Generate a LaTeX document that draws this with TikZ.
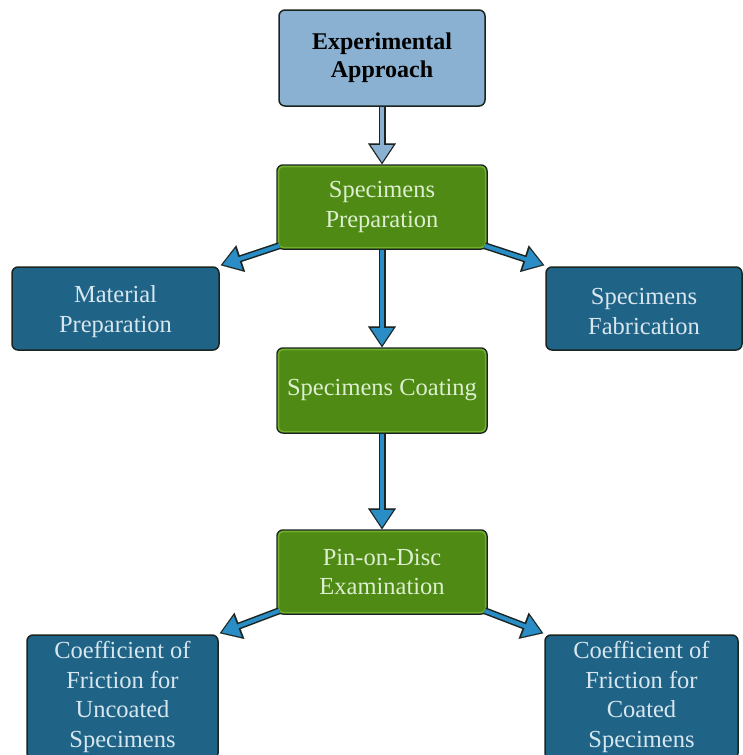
\documentclass[tikz,border=0pt]{standalone}
\usepackage{fontspec}
\setmainfont{Liberation Serif}
\newfontfamily\tnr{Liberation Serif}
\usetikzlibrary{arrows.meta,calc}
\definecolor{topfill}{HTML}{8AB1D1}
\definecolor{greenfill}{HTML}{4E8A14}
\definecolor{greenedge}{HTML}{72AE2C}
\definecolor{greentext}{HTML}{DDEFD0}
\definecolor{bluefill}{HTML}{1F6487}
\definecolor{bluetext}{HTML}{D8E6EF}
\definecolor{arrowblue}{HTML}{2A8DC5}
\definecolor{edgedark}{HTML}{1A2420}
\tikzset{
  basebox/.style={rectangle, rounded corners=6pt, draw=edgedark, line width=1.5pt,
    align=center, font=\tnr\fontsize{24.5}{29.5}\selectfont, inner sep=2pt},
  topbox/.style={basebox, fill=topfill, text=black, font=\tnr\fontsize{24}{28}\selectfont\bfseries},
  greenbox/.style={basebox, fill=greenfill, text=greentext},
  bluebox/.style={basebox, fill=bluefill, text=bluetext},
  bluelabel/.style={align=center, font=\tnr\fontsize{24.5}{29.5}\selectfont, text=bluetext, inner sep=0pt, yshift=-3pt},
  inneredge/.style={draw=greenedge, line width=1.6pt, rounded corners=4.5pt},
  arrowout/.style={draw=edgedark, line width=7pt, shorten >=12pt},
  arrowin/.style={draw=#1, line width=4pt, shorten >=12pt},
  tipout/.style={draw=edgedark, -{Triangle[length=21pt,width=28pt,fill=edgedark]}, line width=0.1pt},
  tipin/.style={draw=#1, -{Triangle[length=17pt,width=22.5pt,fill=#1]}, line width=0.1pt, shorten >=2.2pt},
}
\newcommand{\fatarrow}[3]{%
  \path[tipout] #1 -- #2;
  \path[arrowout] #1 -- #2;
  \path[arrowin=#3] #1 -- #2;
  \path[tipin=#3] #1 -- #2;
}
\begin{document}
\begin{tikzpicture}[x=1pt,y=-1pt]
\useasboundingbox (0,0) rectangle (742,755);
\node[topbox, minimum width=206pt, minimum height=96pt] (ea) at (382,58) {Experimental\\Approach};
\node[greenbox, minimum width=210pt, minimum height=84pt] (sp) at (382,207) {Specimens\\Preparation};
\node[bluebox, minimum width=207pt, minimum height=83pt,
  label={[bluelabel]center:Material\\Preparation}] (mp) at (115.5,308.5) {};
\node[bluebox, minimum width=196pt, minimum height=83pt,
  label={[bluelabel]center:Specimens\\Fabrication}] (sf) at (644,308.5) {};
\node[greenbox, minimum width=210pt, minimum height=85pt] (sc) at (382,390.5) {Specimens Coating};
\node[greenbox, minimum width=210pt, minimum height=84pt] (pd) at (382,572) {Pin-on-Disc\\Examination};
\node[bluebox, minimum width=191pt, minimum height=124pt] (cu) at (122.5,697) {Coefficient of\\Friction for\\Uncoated\\Specimens};
\node[bluebox, minimum width=193pt, minimum height=124pt] (cc) at (641.5,697) {Coefficient of\\Friction for\\Coated\\Specimens};

\foreach \n in {sp,sc,pd}{
  \draw[inneredge] ([xshift=2.2pt,yshift=-2.2pt]\n.north west) rectangle ([xshift=-2.2pt,yshift=2.2pt]\n.south east);
}

\fatarrow{(ea.south)}{(sp.north)}{topfill}
\fatarrow{(sp.south)}{(sc.north)}{arrowblue}
\fatarrow{(sc.south)}{(pd.north)}{arrowblue}
\fatarrow{([xshift=3pt,yshift=4pt]sp.south west)}{([xshift=1pt,yshift=1pt]mp.north east)}{arrowblue}
\fatarrow{([xshift=-3pt,yshift=4pt]sp.south east)}{([xshift=-1pt,yshift=1pt]sf.north west)}{arrowblue}
\fatarrow{([xshift=3pt,yshift=4pt]pd.south west)}{([xshift=1pt,yshift=1pt]cu.north east)}{arrowblue}
\fatarrow{([xshift=-3pt,yshift=4pt]pd.south east)}{([xshift=-1pt,yshift=1pt]cc.north west)}{arrowblue}
\end{tikzpicture}
\end{document}
